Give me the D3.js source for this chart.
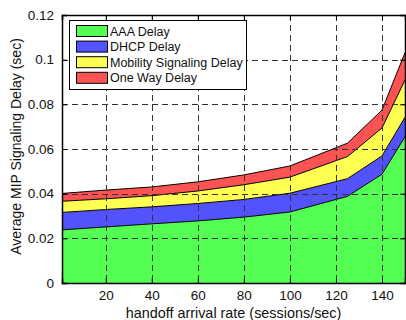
<!DOCTYPE html>
<html><head><meta charset="utf-8">
<script src="https://cdn.jsdelivr.net/npm/d3@7"></script>
<style>body{margin:0;background:#fff}svg{display:block;font-family:"Liberation Sans",Arial,sans-serif}</style>
</head><body><svg id="c" width="406" height="320"></svg>
<script>
const rates = [1, 20, 40, 60, 80, 100, 125, 140, 150];
const aaaDelay = [0.0238, 0.0251, 0.0265, 0.0278, 0.0295, 0.0318, 0.0388, 0.0487, 0.0655];
const dhcpDelay = [0.0078, 0.0078, 0.0076, 0.0078, 0.0079, 0.0084, 0.0079, 0.0082, 0.0087];
const mobilityDelay = [0.0050, 0.0048, 0.0050, 0.0056, 0.0066, 0.0072, 0.0099, 0.0125, 0.0167];
const oneWayDelay = [0.0035, 0.0039, 0.0039, 0.0041, 0.0044, 0.0050, 0.0060, 0.0080, 0.0122];
const seriesNames = ["AAA Delay", "DHCP Delay", "Mobility Signaling Delay", "One Way Delay"];
const seriesColors = ["#52ff52", "#5252ff", "#ffff52", "#ff5252"];
const xTicks = [20, 40, 60, 80, 100, 120, 140];
const yTicks = [0, 0.02, 0.04, 0.06, 0.08, 0.1, 0.12];

const L = 62, R = 405, T = 15, B = 283;
const svg = d3.select("#c");
const x = d3.scaleLinear().domain([1, 150]).range([L, R]);
const y = d3.scaleLinear().domain([0, 0.12]).range([B, T]);

const keys = ["aaa", "dhcp", "mob", "one"];
const rows = rates.map((r, i) => ({rate: r, aaa: aaaDelay[i], dhcp: dhcpDelay[i], mob: mobilityDelay[i], one: oneWayDelay[i]}));
const stacked = d3.stack().keys(keys)(rows);
const area = d3.area().x(d => x(d.data.rate)).y0(d => y(d[0])).y1(d => y(d[1]));
const line = d3.line().x(d => x(d.data.rate)).y(d => y(d[1]));

svg.append("g").selectAll("path").data(stacked).join("path")
  .attr("d", area).attr("fill", (d, i) => seriesColors[i]).attr("stroke", "none");
svg.append("g").selectAll("path").data(stacked).join("path")
  .attr("d", line).attr("fill", "none").attr("stroke", "#000").attr("stroke-width", 1);

// grid
const grid = svg.append("g").attr("stroke", "#333").attr("stroke-width", 1).attr("stroke-dasharray", "6,4");
xTicks.forEach(t => grid.append("line").attr("x1", Math.round(x(t)) + 0.5).attr("x2", Math.round(x(t)) + 0.5).attr("y1", T).attr("y2", B));
yTicks.filter(t => t > 0 && t < 0.12).forEach(t => grid.append("line").attr("x1", L).attr("x2", R).attr("y1", Math.round(y(t)) + 0.5).attr("y2", Math.round(y(t)) + 0.5));

// axes
const xAxisB = d3.axisBottom(x).tickValues(xTicks).tickSize(-5).tickPadding(7).tickFormat(d3.format("d"));
const xAxisT = d3.axisTop(x).tickValues(xTicks).tickSize(-5).tickFormat("");
const yAxisL = d3.axisLeft(y).tickValues(yTicks).tickSize(-5).tickPadding(8).tickFormat(d => d === 0 ? "0" : String(d));
const yAxisR = d3.axisRight(y).tickValues(yTicks).tickSize(-5).tickFormat("");
function style(g) { g.selectAll("path").attr("stroke", "#000").attr("stroke-width", 1.5); g.selectAll("line").attr("stroke", "#000"); g.selectAll("text").attr("fill", "#111").style("font-size", "13.5px").style("font-family", "Liberation Sans, Arial, sans-serif"); }
svg.append("g").attr("transform", `translate(0,${B})`).call(xAxisB).call(style);
svg.append("g").attr("transform", `translate(0,${T})`).call(xAxisT).call(style);
svg.append("g").attr("transform", `translate(${L},0)`).call(yAxisL).call(style);
svg.append("g").attr("transform", `translate(${R},0)`).call(yAxisR).call(style);

svg.append("text").attr("x", 233.5).attr("y", 317.5).attr("text-anchor", "middle").attr("fill", "#111").style("font-size", "14.4px").text("handoff arrival rate (sessions/sec)");
svg.append("text").attr("transform", `translate(21,146.5) rotate(-90)`).attr("text-anchor", "middle").attr("fill", "#111").style("font-size", "14px").text("Average MIP Signaling Delay (sec)");

// legend
const lg = svg.append("g");
lg.append("rect").attr("x", 69.5).attr("y", 20.5).attr("width", 177).attr("height", 69).attr("fill", "#fff").attr("stroke", "#000");
seriesNames.forEach((n, i) => {
  const yy = 25 + i * 15.6;
  lg.append("rect").attr("x", 76.5).attr("y", yy + 0.5).attr("width", 31).attr("height", 11).attr("fill", seriesColors[i]).attr("stroke", "#000");
  lg.append("text").attr("x", 110).attr("y", yy + 10.5).attr("fill", "#111").style("font-size", "12.5px").text(n);
});
</script></body></html>
